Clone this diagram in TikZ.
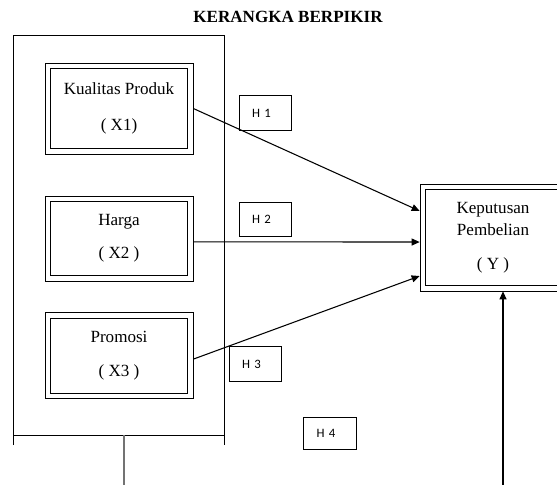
\documentclass[tikz,border=0pt]{standalone}
\usepackage{fontspec}
\setmainfont{Liberation Serif}
\newfontfamily\hfont{Carlito}
\usetikzlibrary{arrows.meta}

\tikzset{
  varbox/.style={draw, line width=0.5pt, align=center, inner sep=0pt,
    font=\fontsize{12.8}{15.5}\selectfont},
  hbox/.style={draw, line width=0.6pt, text width=20pt, align=left, inner xsep=9.75pt,
    inner ysep=0pt, minimum height=26pt, font=\hfont\fontsize{9.6}{11}\selectfont},
  panah/.style={-{Triangle[length=6pt,width=5.25pt]}, line width=0.8pt}
}

\begin{document}
\begin{tikzpicture}[x=0.75pt, y=-0.75pt]
  \useasboundingbox (0,0) rectangle (557,485);
  \node[font=\bfseries\fontsize{12.8}{15.5}\selectfont] (judul) at (288,17) {KERANGKA BERPIKIR};

  % kerangka kiri
  \draw[line width=0.75pt] (13,445) -- (13,36) -- (224,36) -- (224,445);
  \draw[line width=0.75pt] (13,435) -- (224,435);
  \coordinate (bawahkiri) at (124,435);
  \coordinate (ujungkiri) at (124,485);
  \draw[black!55, line width=1pt] (bawahkiri) -- (ujungkiri);

  \node[varbox, minimum width=111pt, minimum height=68.25pt] (x1) at (119,108.5)
    {Kualitas Produk\\[11pt]( X1)};
  \node[varbox, minimum width=111pt, minimum height=63.75pt] (x2) at (119,238.5)
    {Harga\\[9.25pt]( X2 )};
  \node[varbox, minimum width=111pt, minimum height=64.5pt] (x3) at (119,355.8)
    {Promosi\\[10pt]( X3 )};
  \node[varbox, minimum width=109.5pt, minimum height=80.25pt] (y) at (493,237.5)
    {Keputusan\\[1pt]Pembelian\\[10pt]( Y )};

  % garis dalam
  \foreach \n in {x1,x2,x3,y}
    \draw[line width=0.5pt] ([shift={(4.25pt,-4.5pt)}]\n.north west)
      rectangle ([shift={(-4.25pt,4.5pt)}]\n.south east);

  \node[hbox] (h1) at (265.5,113) {H 1};
  \node[hbox, minimum height=25pt] (h2) at (265.5,219.5) {H 2};
  \node[hbox] (h3) at (255.5,364) {H 3};
  \node[hbox, minimum height=23.5pt] (h4) at (330,433.5) {H 4};

  \draw[panah] (x1.east) -- ([yshift=19.9pt]y.west);
  \draw[panah] ([yshift=-2.5pt]x2.east) -- ([yshift=-3.4pt]y.west);
  \draw[panah] ([yshift=-2.5pt]x3.east) -- ([yshift=-28.9pt]y.west);

  \coordinate (ujungkanan) at (503,485);
  \draw[panah] (ujungkanan) -- (ujungkanan |- y.south);
\end{tikzpicture}
\end{document}
